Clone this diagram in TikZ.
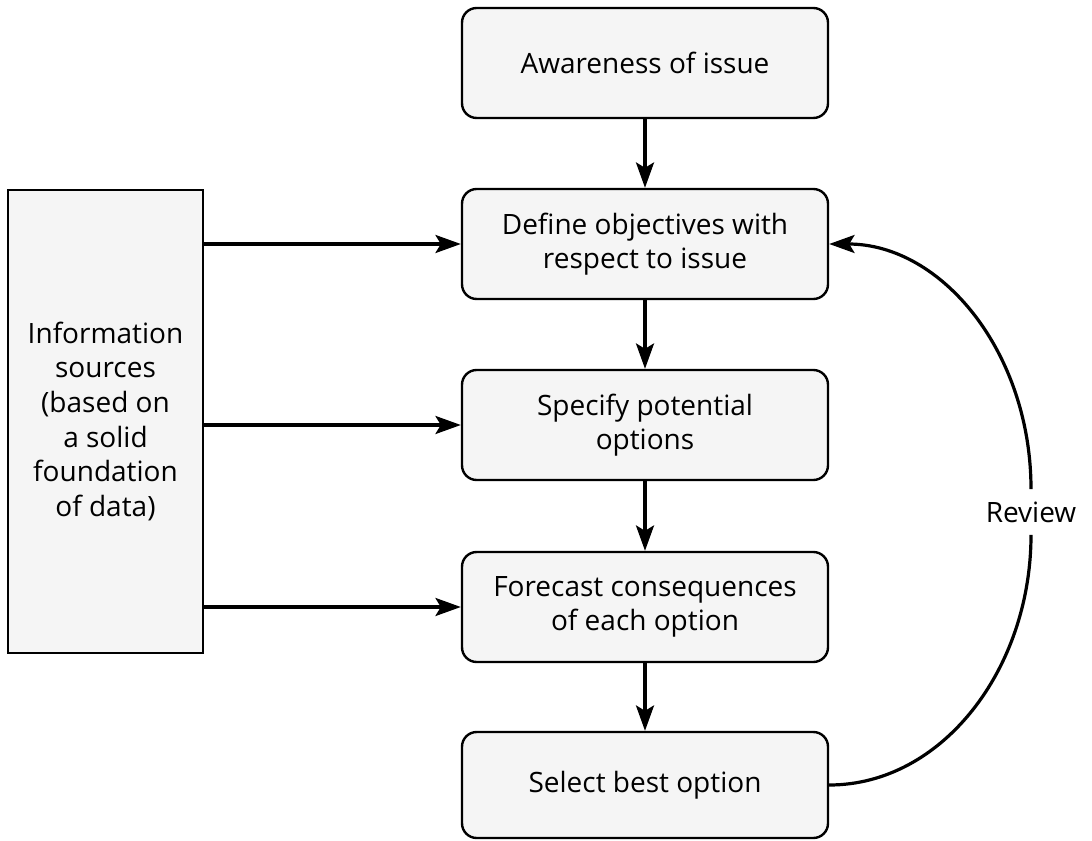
\documentclass[tikz,border=0pt]{standalone}
\usepackage{fontspec}
\setmainfont{Open Sans}
\usetikzlibrary{arrows.meta}

\tikzset{every picture/.style={line width=0.75pt}}
\tikzset{
  stepbox/.style={draw, rounded corners=11pt, fill=black!4, line width=1.8pt,
    minimum width=274.5pt, minimum height=82.5pt, inner sep=0pt, align=center,
    font=\fontsize{21}{26}\selectfont},
  sourcebox/.style={draw, fill=black!4, line width=1.8pt,
    minimum width=146pt, minimum height=347pt, inner sep=0pt, align=center,
    font=\fontsize{21}{26}\selectfont},
  flow/.style={line width=2.4pt, -{Stealth[length=19pt,width=13.5pt,inset=4pt]}},
  loopback/.style={line width=2.4pt},
}

\begin{document}
\begin{tikzpicture}[x=0.75pt,y=0.75pt,yscale=-1,xscale=1]
	%set diagram frame: 1092 x 841
	\path[use as bounding box] (0,0) rectangle (1092,841);

	%Shape: Rounded Rect [id:aware]
	\node[stepbox] (aware) at (645,63) {Awareness of issue};
	%Shape: Rounded Rect [id:define]
	\node[stepbox] (define) at (645,244) {Define objectives with\\respect to issue};
	%Shape: Rounded Rect [id:specify]
	\node[stepbox] (specify) at (645,425) {Specify potential\\options};
	%Shape: Rounded Rect [id:forecast]
	\node[stepbox] (forecast) at (645,607) {Forecast consequences\\of each option};
	%Shape: Rounded Rect [id:select]
	\node[stepbox, minimum height=79.5pt] (select) at (645,785) {Select best option};

	%Shape: Rectangle [id:sources]
	\node[sourcebox] (sources) at (105.5,421.5) {Information\\sources\\(based on\\a solid\\foundation\\of data)};

	%Straight Lines (down the chain)
	\draw[flow] (aware) -- (define);
	\draw[flow] (define) -- (specify);
	\draw[flow] (specify) -- (forecast);
	\draw[flow] (forecast) -- (select);

	%Straight Lines (from the sources)
	\draw[flow] (sources.east |- define.west) -- (define.west);
	\draw[flow] (sources.east |- specify.west) -- (specify.west);
	\draw[flow] (sources.east |- forecast.west) -- (forecast.west);

	% Text Node
	\node[font=\fontsize{21}{26}\selectfont, inner xsep=2pt, inner ysep=9pt] (review) at (1031,512) {Review};

	%Curve Lines (review loop)
	\draw[loopback] (select.east) .. controls +(113,0) and +(0,134) .. (review.south);
	\draw[loopback, -{Stealth[length=19pt,width=13.5pt,inset=4pt]}] (review.north) .. controls +(0,-136) and +(113,0) .. (define.east);

\end{tikzpicture}
\end{document}
